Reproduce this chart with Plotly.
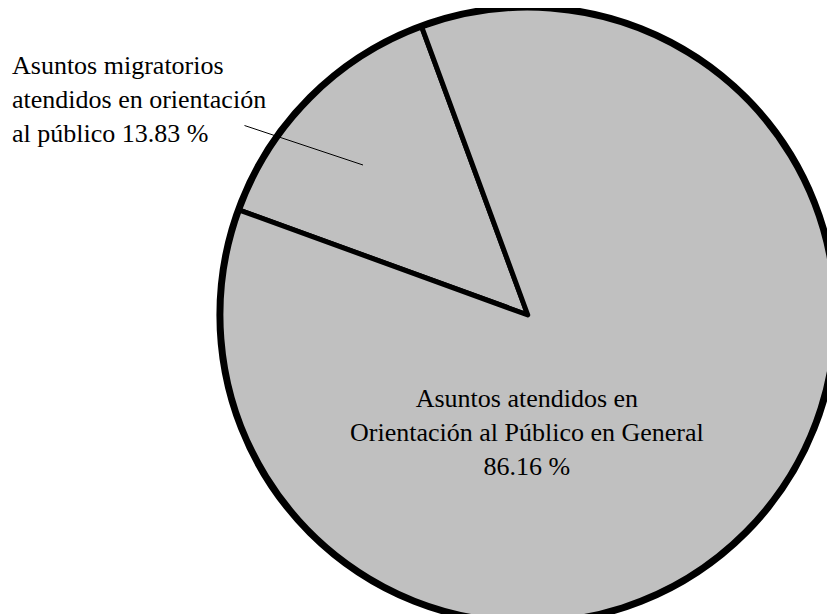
import plotly.graph_objects as go

categories = ["Asuntos migratorios atendidos en orientación al público",
              "Asuntos atendidos en Orientación al Público en General"]
values = [13.83, 86.16]

small_label = "Asuntos migratorios<br>atendidos en orientación<br>al público {:.2f} %".format(values[0])
big_label = "Asuntos atendidos en<br>Orientación al Público en General<br>{:.2f} %".format(values[1])

W, H = 835, 614
pie_domain = dict(x=[0.255, 0.99], y=[0.0, 1.0])

fig = go.Figure()
# outline ring (whole pie) drawn underneath to give a heavier outer border
fig.add_trace(go.Pie(
    labels=["Total"],
    values=[sum(values)],
    sort=False,
    textinfo="none",
    hoverinfo="skip",
    marker=dict(colors=["#c0c0c0"], line=dict(color="black", width=9)),
    domain=pie_domain,
    showlegend=False,
))
fig.add_trace(go.Pie(
    labels=categories,
    values=values,
    sort=False,
    direction="clockwise",
    rotation=-70,
    textinfo="none",
    hoverinfo="label+value",
    marker=dict(colors=["#c0c0c0", "#c0c0c0"], line=dict(color="black", width=5)),
    domain=pie_domain,
    showlegend=False,
))

font = dict(family="Liberation Serif", size=26, color="black")

fig.add_annotation(
    x=2 / W, y=1 - 41 / H, xref="paper", yref="paper",
    xanchor="left", yanchor="top", align="left",
    text=small_label, showarrow=False, font=font,
)
fig.add_annotation(
    x=355 / W, y=1 - 157 / H, xref="paper", yref="paper",
    ax=-120, ay=-40, text="", showarrow=True, arrowhead=0,
    arrowwidth=1, arrowcolor="black", standoff=0, startstandoff=0,
)
fig.add_annotation(
    x=519 / W, y=1 - 424 / H, xref="paper", yref="paper",
    xanchor="center", yanchor="middle", align="center",
    text=big_label, showarrow=False, font=font,
)

fig.update_layout(
    width=W, height=H,
    margin=dict(l=0, r=0, t=0, b=0),
    paper_bgcolor="white", plot_bgcolor="white",
)

fig.write_html("out.html")
